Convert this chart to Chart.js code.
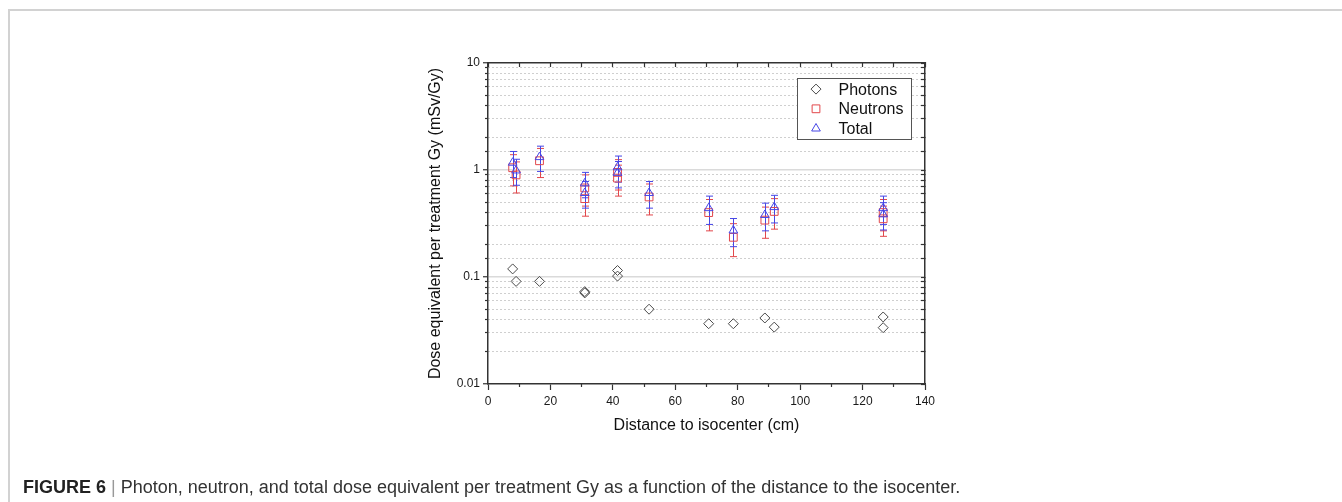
<!DOCTYPE html>
<html>
<head>
<meta charset="utf-8">
<script src="https://cdn.jsdelivr.net/npm/chart.js@4.4.0/dist/chart.umd.min.js"></script>
<style>
  html, body { margin: 0; padding: 0; background: #fff; }
  #wrap { position: relative; width: 1342px; height: 502px; overflow: hidden; background: #fff; }
  #c { position: absolute; left: 0; top: 0; }
  #frameTop { position: absolute; left: 8px; top: 9px; width: 1334px; height: 2px; background: #d2d2d2; }
  #frameLeft { position: absolute; left: 8px; top: 9px; width: 2px; height: 493px; background: #d2d2d2; }
  #cap { position: absolute; left: 23px; top: 477px; font-family: Arial, "Liberation Sans", Helvetica, sans-serif;
         font-size: 18px; line-height: 20px; color: #333; white-space: nowrap; }
  #cap b { color: #222; }
  #cap .bar { color: #999; }
</style>
</head>
<body>
<div id="wrap">
  <div id="frameTop"></div>
  <div id="frameLeft"></div>
  <canvas id="c" width="1342" height="502"></canvas>
  <div id="cap"><b>FIGURE 6</b> <span class="bar">|</span> Photon, neutron, and total dose equivalent per treatment Gy as a function of the distance to the isocenter.</div>
</div>
<script>
// ---------------- data ----------------
const seriesNames = ['Photons', 'Neutrons', 'Total'];

const photonX = [7.9, 9.0, 16.5, 31.0, 31.0, 41.5, 41.5, 51.6, 70.7, 78.6, 88.7, 91.7, 126.6, 126.6];
const photonY = [0.119, 0.091, 0.091, 0.073, 0.071, 0.115, 0.102, 0.050, 0.0366, 0.0366, 0.0414, 0.034, 0.0423, 0.0336];

const neutronX = [7.9, 9.0, 16.5, 31.0, 31.0, 41.5, 41.5, 51.6, 70.7, 78.6, 88.7, 91.7, 126.6, 126.6];
const neutronY = [1.05, 0.90, 1.22, 0.68, 0.54, 0.95, 0.84, 0.56, 0.40, 0.235, 0.34, 0.41, 0.40, 0.35];
const neutronErr = [0.34, 0.29, 0.37, 0.22, 0.17, 0.30, 0.27, 0.18, 0.13, 0.08, 0.11, 0.13, 0.13, 0.11];

const totalX = [7.9, 9.0, 16.5, 31.0, 31.0, 41.5, 41.5, 51.6, 70.7, 78.6, 88.7, 91.7, 126.6, 126.6];
const totalY = [1.17, 0.99, 1.32, 0.75, 0.61, 1.06, 0.94, 0.61, 0.44, 0.272, 0.38, 0.45, 0.44, 0.385];
const totalErr = [0.32, 0.27, 0.35, 0.20, 0.17, 0.29, 0.26, 0.17, 0.13, 0.08, 0.11, 0.13, 0.13, 0.11];

const xTickLabels = [0, 20, 40, 60, 80, 100, 120, 140];
const yMajorTicks = [0.01, 0.1, 1, 10];
const yTickLabels = ['0.01', '0.1', '1', '10'];

const xTitle = 'Distance to isocenter (cm)';
const yTitle = 'Dose equivalent per treatment Gy (mSv/Gy)';

// ---------------- styling ----------------
const FONT = 'Arial, "Liberation Sans", Helvetica, sans-serif';
const AXIS = '#333333';
const NONE = 'rgba(0,0,0,0)';
const GRID_MAJOR = '#dadada';
const GRID_MINOR = '#cfcfcf';
const C_PHOTON = '#4a4a4a';
const C_NEUTRON = '#e2474b';
const C_TOTAL = '#4646e6';

const xMin = xTickLabels[0], xMax = xTickLabels[xTickLabels.length - 1];
const yMin = yMajorTicks[0], yMax = yMajorTicks[yMajorTicks.length - 1];

function isDecade(v) {
  const l = Math.log10(v);
  return Math.abs(l - Math.round(l)) < 1e-6;
}
function isInnerDecade(v) {
  return isDecade(v) && v > yMin * 1.0001 && v < yMax * 0.9999;
}
function yLabel(v) {
  for (let i = 0; i < yMajorTicks.length; i++) {
    if (Math.abs(Math.log10(v) - Math.log10(yMajorTicks[i])) < 1e-6) return yTickLabels[i];
  }
  return '';
}
function isXMajor(v) {
  return xTickLabels.some(t => Math.abs(t - v) < 1e-6);
}
function pts(xs, ys) { return xs.map((x, i) => ({ x: x, y: ys[i] })); }

// ---------------- plugins ----------------
const errorBars = {
  id: 'errorBars',
  beforeDatasetsDraw(chart) {
    const ctx = chart.ctx;
    const xs = chart.scales.x, ys = chart.scales.y;
    ctx.save();
    ctx.beginPath();
    ctx.rect(chart.chartArea.left, chart.chartArea.top, chart.chartArea.width, chart.chartArea.height);
    ctx.clip();
    const order = chart.data.datasets.map((d, i) => i).reverse();
    order.forEach(di => {
      const ds = chart.data.datasets[di];
      if (!ds.errors) return;
      ctx.strokeStyle = ds.borderColor;
      ctx.lineWidth = 1;
      ds.data.forEach((p, i) => {
        const e = ds.errors[i];
        const px = Math.round(xs.getPixelForValue(p.x)) + 0.5;
        const yTop = ys.getPixelForValue(p.y + e);
        const yBot = ys.getPixelForValue(Math.max(p.y - e, yMin));
        const cap = 3.5;
        ctx.beginPath();
        ctx.moveTo(px, yTop); ctx.lineTo(px, yBot);
        ctx.moveTo(px - cap, yTop); ctx.lineTo(px + cap, yTop);
        ctx.moveTo(px - cap, yBot); ctx.lineTo(px + cap, yBot);
        ctx.stroke();
      });
    });
    ctx.restore();
  }
};

function drawMarker(ctx, style, x, y, r) {
  ctx.beginPath();
  if (style === 'rectRot') {
    ctx.moveTo(x - r, y); ctx.lineTo(x, y - r); ctx.lineTo(x + r, y); ctx.lineTo(x, y + r);
    ctx.closePath();
  } else if (style === 'rect') {
    const s = Math.SQRT1_2 * r;
    ctx.rect(x - s, y - s, 2 * s, 2 * s);
  } else if (style === 'triangle') {
    let a = 0;
    ctx.moveTo(x + Math.sin(a) * r, y - Math.cos(a) * r);
    a += 2 * Math.PI / 3;
    ctx.lineTo(x + Math.sin(a) * r, y - Math.cos(a) * r);
    a += 2 * Math.PI / 3;
    ctx.lineTo(x + Math.sin(a) * r, y - Math.cos(a) * r);
    ctx.closePath();
  }
  ctx.stroke();
}

const boxLegend = {
  id: 'boxLegend',
  afterDraw(chart) {
    const { ctx, chartArea } = chart;
    const w = 114, h = 61;
    const left = Math.round(chartArea.right - 128.5) + 0.5;
    const top = Math.round(chartArea.top + 14.7) + 0.5;
    ctx.save();
    ctx.fillStyle = '#ffffff';
    ctx.fillRect(left, top, w, h);
    ctx.strokeStyle = '#555';
    ctx.lineWidth = 1;
    ctx.strokeRect(left, top, w, h);
    ctx.font = '16px ' + FONT;
    ctx.textBaseline = 'middle';
    ctx.textAlign = 'left';
    seriesNames.forEach((name, k) => {
      const ds = chart.data.datasets.find(d => d.label === name);
      const cy = top + 10.6 + k * 19.7;
      ctx.strokeStyle = ds.borderColor;
      ctx.lineWidth = 1;
      drawMarker(ctx, ds.pointStyle, left + 18.5, cy, ds.pointRadius);
      ctx.fillStyle = '#111';
      ctx.fillText(name, left + 41, cy + 1);
    });
    ctx.restore();
  }
};

// ---------------- chart ----------------
const chart = new Chart(document.getElementById('c'), {
  type: 'scatter',
  data: {
    datasets: [
      { label: 'Total', data: pts(totalX, totalY), errors: totalErr,
        pointStyle: 'triangle', pointRadius: 5, pointHoverRadius: 5, borderWidth: 1,
        borderColor: C_TOTAL, backgroundColor: NONE, showLine: false },
      { label: 'Neutrons', data: pts(neutronX, neutronY), errors: neutronErr,
        pointStyle: 'rect', pointRadius: 5.5, pointHoverRadius: 5.5, borderWidth: 1,
        borderColor: C_NEUTRON, backgroundColor: NONE, showLine: false },
      { label: 'Photons', data: pts(photonX, photonY),
        pointStyle: 'rectRot', pointRadius: 5, pointHoverRadius: 5, borderWidth: 1,
        borderColor: C_PHOTON, backgroundColor: NONE, showLine: false }
    ]
  },
  options: {
    responsive: false,
    animation: false,
    events: [],
    layout: { padding: { left: 426.4, top: 63, right: 417, bottom: 66.7 } },
    plugins: { legend: { display: false }, tooltip: { enabled: false } },
    scales: {
      x: {
        type: 'linear', position: 'bottom', min: xMin, max: xMax, weight: 1,
        ticks: { stepSize: 10, autoSkip: false, maxRotation: 0, padding: 4, color: '#1a1a1a',
                 font: { family: FONT, size: 12 },
                 callback: v => isXMajor(v) ? String(v) : '' },
        grid: { drawOnChartArea: false, drawTicks: true, tickLength: 6, tickWidth: 1.2,
                tickColor: c => (c.tick && isXMajor(c.tick.value)) ? AXIS : NONE },
        border: { color: AXIS, width: 1.5 },
        title: { display: true, text: xTitle, color: '#111', font: { family: FONT, size: 16 },
                 padding: { top: 0, bottom: 0 } },
        afterFit: s => { s.height = 51.3; }
      },
      xMinor: {
        type: 'linear', position: 'bottom', min: xMin, max: xMax, weight: 0,
        ticks: { display: false, stepSize: 10, autoSkip: false },
        grid: { drawOnChartArea: false, drawTicks: true, tickLength: 3, tickWidth: 1.2,
                tickColor: c => (c.tick && !isXMajor(c.tick.value)) ? AXIS : NONE },
        border: { display: false },
        afterFit: s => { s.height = 0; }
      },
      xTop: {
        type: 'linear', position: 'top', min: xMin, max: xMax,
        ticks: { display: false, stepSize: 10, autoSkip: false },
        grid: { drawOnChartArea: false, drawTicks: true, tickLength: -4, tickWidth: 1.2, tickColor: AXIS },
        border: { color: AXIS, width: 1.5 },
        afterFit: s => { s.height = 0; }
      },
      y: {
        type: 'logarithmic', position: 'left', min: yMin, max: yMax, weight: 1,
        ticks: { autoSkip: false, padding: 3, color: '#1a1a1a', font: { family: FONT, size: 12 },
                 callback: v => yLabel(v) },
        grid: { lineWidth: 1.5, tickLength: 5, tickWidth: 1.2,
                color: c => (c.tick && isInnerDecade(c.tick.value)) ? GRID_MAJOR : NONE,
                tickColor: c => (c.tick && isDecade(c.tick.value)) ? AXIS : NONE },
        border: { color: AXIS, width: 1.5 },
        title: { display: true, text: yTitle, color: '#111', font: { family: FONT, size: 16 },
                 padding: { top: 0, bottom: 0 } },
        afterFit: s => { s.width = 61.6; }
      },
      yMinor: {
        type: 'logarithmic', position: 'left', min: yMin, max: yMax, weight: 0,
        ticks: { display: false, autoSkip: false },
        grid: { lineWidth: 1, tickLength: 3, tickWidth: 1.2,
                color: c => (c.tick && !isDecade(c.tick.value)) ? GRID_MINOR : NONE,
                tickColor: c => (c.tick && !isDecade(c.tick.value)) ? AXIS : NONE },
        border: { display: false, dash: [2, 2] },
        afterFit: s => { s.width = 0; }
      },
      yRight: {
        type: 'logarithmic', position: 'right', min: yMin, max: yMax,
        ticks: { display: false, autoSkip: false },
        grid: { drawOnChartArea: false, drawTicks: true, tickLength: -4, tickWidth: 1.2, tickColor: AXIS },
        border: { color: AXIS, width: 1.5 },
        afterFit: s => { s.width = 0; }
      }
    }
  },
  plugins: [errorBars, boxLegend]
});
</script>
</body>
</html>
